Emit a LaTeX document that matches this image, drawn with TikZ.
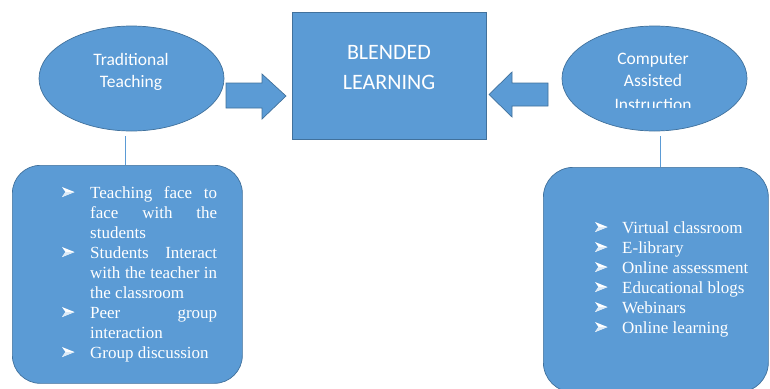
\documentclass[tikz,border=0pt]{standalone}
\usepackage{fontspec}
\setmainfont{Liberation Serif}
\newfontfamily\calfont{Carlito}
\usetikzlibrary{shapes.geometric}
\definecolor{blfill}{HTML}{5B9BD5}
\definecolor{bldraw}{HTML}{41719C}
\begin{document}
\begin{tikzpicture}[x=1pt,y=-1pt,
  shapebox/.style={fill=blfill,draw=bldraw,line width=0.7pt},
  ell/.style={shapebox,ellipse,minimum width=185pt,minimum height=105pt,inner sep=0pt},
  elltext/.style={text=white,font=\calfont\fontsize{17.5}{22}\selectfont,anchor=base,inner sep=0pt},
  bigtext/.style={text=white,font=\calfont\fontsize{22}{30}\selectfont,anchor=base,inner sep=0pt},
  listline/.style={text=white,font=\fontsize{17}{20}\selectfont,anchor=base west,inner sep=0pt},
  arrowbul/.pic={\fill[white] (0,0) -- (12.5,-5) -- (0,-10) -- (3.5,-5) -- cycle;
                 \fill[white!80!blfill] (0,0) -- (12.5,-5) -- (3.5,-5) -- cycle;},
  conn/.style={draw=blfill,line width=1pt}
]
\useasboundingbox (0,0) rectangle (770,388);

% central rectangle
\node[shapebox,minimum width=194pt,minimum height=127pt,anchor=north west,inner sep=0pt] (bl) at (292,12) {};
\node[bigtext] (bl1) at (389,59.5) {BLENDED};
\node[bigtext] (bl2) at (389,89.5) {LEARNING};

% ellipses
\node[ell] (lt) at (131.5,78.5) {};
\node[elltext] (lt1) at (131,65.5) {Traditional};
\node[elltext] (lt2) at (131,87.5) {Teaching};

\node[ell] (rt) at (654.5,78.5) {};
\node[elltext] (rt1) at (653,64) {Computer};
\node[elltext] (rt2) at (653,86.5) {Assisted};
\begin{scope}
  \clip (540,0) rectangle (770,107);
  \node[elltext] (rt3) at (653,110) {Instruction};
\end{scope}

% block arrows
\fill[shapebox] (226,83) -- (262,83) -- (262,74) -- (286,96) -- (262,119) -- (262,108) -- (226,108) -- cycle;
\fill[shapebox] (548,83) -- (512,83) -- (512,72) -- (489,94.5) -- (512,117) -- (512,106) -- (548,106) -- cycle;

% lower boxes
\node[shapebox,rounded corners=28pt,minimum width=230pt,minimum height=218pt,anchor=north west,inner sep=0pt] (lbox) at (12,165) {};
\node[shapebox,rounded corners=30pt,minimum width=225pt,minimum height=225pt,anchor=north west,inner sep=0pt] (rbox) at (543,167) {};

% connectors
\coordinate (la) at (125,136);
\draw[conn] (la) -- (la |- lbox.north);
\coordinate (ra) at (660,136);
\draw[conn] (ra) -- (ra |- rbox.north);

% left list
\node[listline] (l1) at (90,198) {\makebox[127pt][s]{Teaching face to}};
\node[listline] (l2) at (90,218) {\makebox[127pt][s]{face with the}};
\node[listline] (l3) at (90,238) {students};
\node[listline] (l4) at (90,258) {\makebox[127pt][s]{Students Interact}};
\node[listline] (l5) at (90,278) {\makebox[127pt][s]{with the teacher in}};
\node[listline] (l6) at (90,298) {the classroom};
\node[listline] (l7) at (90,318) {\makebox[127pt][s]{Peer group}};
\node[listline] (l8) at (90,338) {interaction};
\node[listline] (l9) at (90,358) {Group discussion};
\foreach \y in {197,257,317,357}
  \pic at (62,\y) {arrowbul};

% right list
\node[listline] (r1) at (622,233) {Virtual classroom};
\node[listline] (r2) at (622,253) {E-library};
\node[listline] (r3) at (622,273) {Online assessment};
\node[listline] (r4) at (622,293) {Educational blogs};
\node[listline] (r5) at (622,313) {Webinars};
\node[listline] (r6) at (622,333) {Online learning};
\foreach \y in {232,252,272,292,312,332}
  \pic at (595,\y) {arrowbul};
\end{tikzpicture}
\end{document}
